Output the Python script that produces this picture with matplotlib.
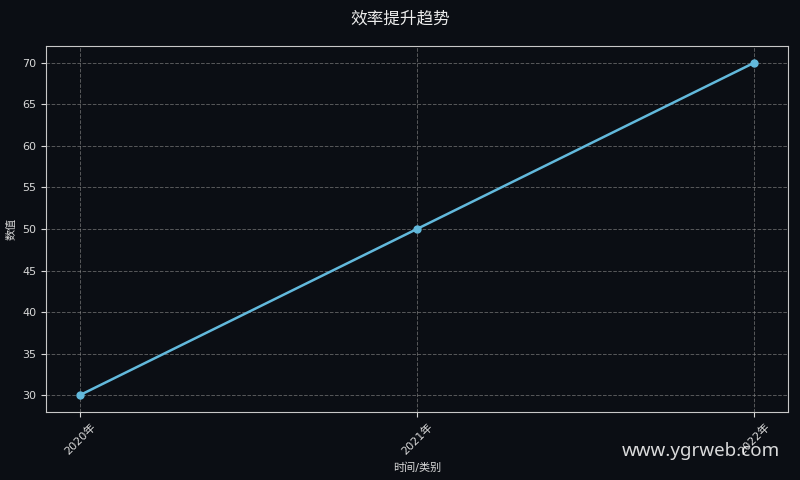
import matplotlib
matplotlib.use('Agg')
import matplotlib.pyplot as plt

plt.rcParams['font.family'] = ['DejaVu Sans', 'Noto Sans CJK SC']

# data
categories = ['2020年', '2021年', '2022年']
values = [30, 50, 70]

BG = '#0b0e14'
LINE = '#62b9dc'
FG = '#d8d8d8'

fig = plt.figure(figsize=(8, 4.8), dpi=100)
fig.patch.set_facecolor(BG)
ax = fig.add_axes([0.0575, 0.142, 0.9275, 0.762])
ax.set_facecolor(BG)

ax.plot(categories, values, color=LINE, linewidth=1.8, marker='o', markersize=5)

ax.grid(True, color='#8a8a8a', linestyle='--', linewidth=0.7, alpha=0.6)
for s in ax.spines.values():
    s.set_color('#c8c8c8')
ax.tick_params(colors=FG, labelsize=8)
plt.setp(ax.get_xticklabels(), rotation=45)
ax.set_xlabel('时间/类别', color=FG, fontsize=8)
ax.set_ylabel('数值', color=FG, fontsize=8)

fig.suptitle('效率提升趋势', color='#ececec', fontsize=12, y=0.98)

fig.text(0.975, 0.042, 'www.ygrweb.com', color='white', alpha=0.85,
         fontsize=13.5, ha='right', va='bottom', family=['Noto Sans', 'DejaVu Sans'])

fig.savefig('out.png', dpi=100, facecolor=BG)
